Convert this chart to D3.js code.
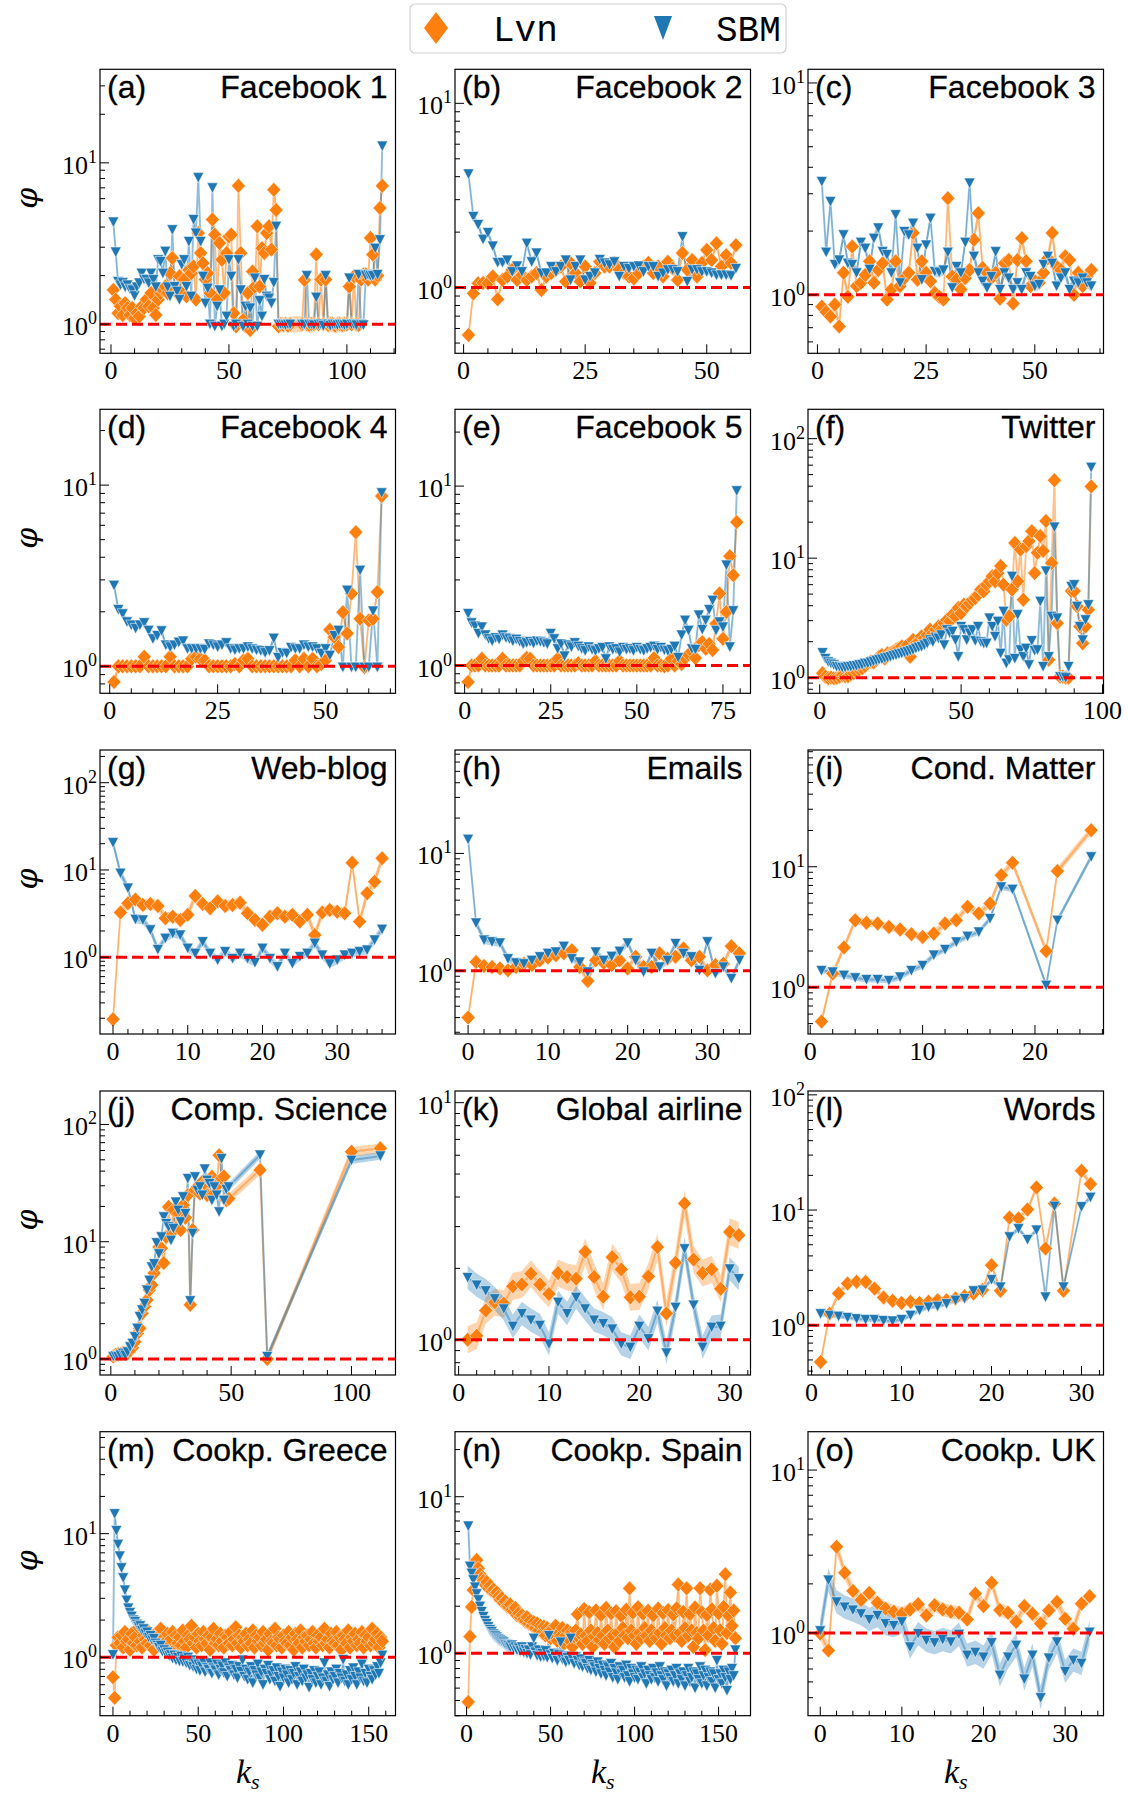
<!DOCTYPE html>
<html>
<head>
<meta charset="utf-8">
<script src="https://cdn.jsdelivr.net/npm/d3@7"></script>
<style>
  body { margin: 0; background: #fff; }
  svg { display: block; }
</style>
</head>
<body>
<svg id="fig" width="1128" height="1798"></svg>
<script>
// ---------------------------------------------------------------------------
// Amplification ratio phi per shell index k_s, Lvn model vs SBM, 15 networks
// ---------------------------------------------------------------------------
const seriesNames = ["Lvn", "SBM"];
const panelLetters = ["(a)", "(b)", "(c)", "(d)", "(e)", "(f)", "(g)", "(h)", "(i)", "(j)", "(k)", "(l)", "(m)", "(n)", "(o)"];
const panelTitles = ["Facebook 1", "Facebook 2", "Facebook 3", "Facebook 4", "Facebook 5", "Twitter",
  "Web-blog", "Emails", "Cond. Matter", "Comp. Science", "Global airline", "Words",
  "Cookp. Greece", "Cookp. Spain", "Cookp. UK"];

// (a) Facebook 1  (shells 77-80 empty)
const ksFb1 = d3.range(1, 77).concat(d3.range(81, 116));
const lvnFb1 = [1.63, 1.42, 1.17, 1.29, 1.14, 1.35, 1.26, 1.14, 1.26, 1.09,
  1.17, 1.12, 1.29, 1.26, 1.42, 1.29, 1.56, 1.26, 1.14, 1.42,
  1.56, 1.63, 1.71, 1.56, 2.07, 2.57, 1.63, 1.56, 1.98, 1.56,
  1.89, 1.49, 2.17, 2.07, 2.28, 1.42, 3.67, 2.76, 2.39, 1.89,
  2.07, 1.56, 4.45, 3.59, 1.42, 3.18, 2.51, 1.56, 2.76, 3.5,
  3.59, 1.17, 0.97, 7.2, 2.76, 1.06, 0.97, 1.56, 0.92, 2.12,
  1.71, 4.04, 1.71, 2.96, 2.76, 3.67, 4.04, 2.9, 6.8, 5.1,
  0.97, 1.0, 0.99, 1.0, 0.98, 1.0,
  1.0, 1.88, 1.0, 0.99, 1.0, 1.0, 2.7, 1.0, 1.89, 1.0,
  1.89, 0.99, 1.0, 1.0, 0.98, 1.0, 1.0, 0.99, 1.0, 1.0,
  1.71, 1.0, 1.98, 1.0, 0.99, 1.89, 2.03, 2.03, 1.89, 3.42,
  2.7, 1.89, 2.0, 5.25, 7.2];
const sbmFb1 = [4.3, 2.8, 1.84, 1.75, 1.81, 1.7, 1.75, 1.65, 1.63, 1.5,
  1.7, 1.8, 2.07, 1.9, 1.89, 1.8, 2.07, 1.89, 1.7, 2.51,
  2.45, 2.07, 2.83, 1.7, 1.49, 3.85, 1.71, 1.6, 1.42, 2.34,
  2.51, 1.71, 3.26, 1.49, 4.45, 3.67, 8.1, 3.26, 1.98, 1.35,
  1.67, 1.0, 7.0, 0.97, 1.29, 1.63, 0.97, 1.0, 1.12, 2.51,
  1.98, 0.97, 1.0, 2.51, 1.63, 0.97, 1.29, 1.0, 1.26, 0.97,
  1.93, 0.97, 1.4, 1.12, 1.89, 1.49, 1.45, 1.35, 1.81, 4.05,
  1.0, 1.0, 1.0, 0.99, 1.0, 1.0,
  1.0, 1.0, 2.0, 1.0, 1.0, 0.99, 1.47, 1.0, 1.0, 0.98,
  2.0, 1.0, 0.98, 1.0, 1.0, 0.99, 1.0, 1.0, 0.99, 1.0,
  1.93, 1.0, 1.0, 0.99, 2.03, 1.0, 0.99, 2.0, 2.03, 2.0,
  2.0, 2.96, 2.03, 3.34, 12.7];

// (b) Facebook 2
const ksFb2 = d3.range(1, 57);
const lvnFb2 = [0.553, 0.93, 1.055, 1.06, 1.055, 1.15, 0.864, 1.1, 1.15, 1.25,
  1.1, 1.17, 1.1, 1.15, 1.2, 0.97, 1.15, 1.2, 1.25, 1.3,
  1.08, 1.36, 1.2, 1.08, 1.3, 1.06, 1.2, 1.38, 1.3, 1.3,
  1.36, 1.25, 1.2, 1.15, 1.12, 1.2, 1.3, 1.36, 1.2, 1.3,
  1.15, 1.38, 1.27, 1.1, 1.54, 1.25, 1.41, 1.15, 1.36, 1.6,
  1.41, 1.74, 1.3, 1.5, 1.36, 1.7];
const sbmFb2 = [4.14, 2.43, 2.2, 1.83, 1.99, 1.68, 1.37, 1.37, 1.41, 1.22,
  1.31, 1.22, 1.74, 1.38, 1.54, 1.2, 1.2, 1.3, 1.22, 1.3,
  1.41, 1.1, 1.3, 1.41, 1.1, 1.15, 1.2, 1.42, 1.36, 1.33,
  1.38, 1.15, 1.3, 1.27, 1.3, 1.31, 1.22, 1.3, 1.3, 1.15,
  1.2, 1.25, 1.25, 1.22, 1.89, 1.08, 1.25, 1.25, 1.22, 1.22,
  1.2, 1.17, 1.17, 1.17, 1.16, 1.27];

// (c) Facebook 3
const ksFb3 = d3.range(1, 64);
const lvnFb3 = [0.88, 0.83, 0.79, 0.9, 0.71, 1.27, 0.98, 1.69, 1.1, 1.14,
  1.24, 1.44, 1.14, 1.31, 1.41, 0.95, 1.06, 1.44, 1.1, 1.2,
  1.27, 1.96, 1.18, 1.44, 1.27, 1.16, 1.02, 0.98, 0.95, 2.86,
  1.22, 1.18, 1.06, 1.2, 1.31, 1.82, 2.43, 1.34, 1.27, 1.2,
  1.27, 0.96, 1.41, 1.46, 0.91, 1.46, 1.85, 1.44, 1.1, 1.16,
  1.14, 1.27, 1.49, 1.96, 1.36, 1.31, 1.52, 1.46, 1.0, 1.27,
  1.1, 1.22, 1.31];
const sbmFb3 = [3.43, 1.59, 2.76, 1.39, 1.46, 1.92, 1.41, 1.39, 1.27, 1.77,
  1.66, 1.32, 1.85, 2.07, 1.6, 1.55, 1.27, 2.39, 1.14, 1.99,
  1.92, 2.18, 1.66, 1.18, 1.72, 2.3, 1.29, 1.28, 1.31, 1.59,
  1.08, 1.36, 1.27, 1.77, 3.37, 1.52, 1.27, 1.16, 1.08, 1.22,
  1.6, 1.06, 1.27, 1.2, 1.06, 1.14, 1.06, 1.27, 1.22, 1.1,
  1.12, 1.39, 1.52, 1.41, 1.1, 1.2, 1.27, 1.06, 1.16, 1.14,
  1.2, 1.14, 1.1];

// (d) Facebook 4
const ksFb4 = d3.range(1, 64);
const lvnFb4 = [0.82, 1.0, 1.0, 1.0, 1.0, 1.0, 1.0, 1.13, 1.0, 1.0,
  1.0, 1.0, 1.0, 1.13, 1.0, 1.0, 1.0, 1.0, 1.1, 1.13,
  1.1, 1.08, 1.0, 1.0, 1.0, 1.0, 1.0, 1.0, 1.03, 1.0,
  1.08, 1.1, 1.0, 1.0, 1.0, 1.0, 1.0, 1.0, 1.0, 1.0,
  1.0, 1.0, 1.08, 1.0, 1.1, 1.0, 1.1, 1.0, 1.03, 1.08,
  1.59, 1.45, 1.28, 1.99, 1.52, 2.52, 5.5, 1.83, 0.99, 1.79,
  1.83, 2.57, 8.7];
const sbmFb4 = [2.8, 2.06, 1.95, 1.76, 1.69, 1.62, 1.69, 1.74, 1.58, 1.42,
  1.48, 1.57, 1.31, 1.28, 1.31, 1.36, 1.38, 1.25, 1.25, 1.25,
  1.25, 1.24, 1.33, 1.31, 1.28, 1.31, 1.35, 1.25, 1.23, 1.25,
  1.25, 1.28, 1.25, 1.23, 1.22, 1.19, 1.22, 1.43, 1.12, 1.19,
  1.18, 1.27, 1.25, 1.25, 1.31, 1.28, 1.28, 1.25, 1.18, 1.25,
  1.15, 1.48, 1.58, 0.99, 2.63, 0.99, 0.99, 3.39, 0.99, 0.99,
  2.02, 0.99, 9.07];

// (e) Facebook 5
const ksFb5 = d3.range(1, 80);
const lvnFb5 = [0.81, 1.0, 1.0, 1.0, 1.09, 1.0, 1.0, 1.0, 1.0, 1.0,
  1.09, 1.0, 1.0, 1.0, 1.0, 1.0, 1.06, 1.1, 1.09, 1.0,
  1.0, 1.0, 1.0, 1.0, 1.0, 1.0, 1.09, 1.0, 1.0, 1.0,
  1.0, 1.0, 1.03, 1.0, 1.0, 1.0, 1.0, 1.06, 1.0, 1.0,
  1.0, 1.0, 1.0, 1.0, 1.06, 1.0, 1.0, 1.0, 1.0, 1.0,
  1.0, 1.0, 1.0, 1.0, 1.1, 1.0, 1.0, 0.99, 1.0, 1.09,
  1.0, 1.06, 1.02, 1.1, 1.15, 1.2, 1.1, 1.3, 1.35, 1.24,
  1.32, 1.22, 1.71, 2.52, 1.41, 1.99, 4.07, 3.19, 6.3];
const sbmFb5 = [1.95, 1.73, 1.66, 1.51, 1.64, 1.48, 1.41, 1.37, 1.43, 1.4,
  1.48, 1.43, 1.41, 1.37, 1.4, 1.36, 1.32, 1.34, 1.36, 1.33,
  1.37, 1.36, 1.34, 1.32, 1.51, 1.41, 1.24, 1.32, 1.13, 1.3,
  1.27, 1.34, 1.28, 1.24, 1.21, 1.27, 1.23, 1.21, 1.24, 1.26,
  1.09, 1.27, 1.23, 1.24, 1.19, 1.26, 1.23, 1.24, 1.21, 1.26,
  1.23, 1.21, 1.24, 1.26, 1.28, 1.23, 1.26, 1.22, 1.21, 1.23,
  1.28, 1.11, 1.48, 1.79, 1.57, 1.24, 1.23, 1.91, 1.59, 1.79,
  2.05, 2.31, 1.57, 1.75, 1.64, 3.63, 1.27, 2.02, 9.42];

// (f) Twitter
const ksTw = d3.range(1, 97);
const lvnTw = [1.09, 1.02, 0.99, 1.0, 0.99, 1.0, 1.02, 1.05, 1.03, 1.03,
  1.07, 1.09, 1.12, 1.17, 1.2, 1.25, 1.32, 1.36, 1.34, 1.41,
  1.5, 1.55, 1.45, 1.6, 1.6, 1.65, 1.71, 1.76, 1.82, 1.76,
  1.88, 1.5, 2.07, 1.94, 2.0, 2.21, 2.14, 2.28, 2.52, 2.36,
  2.52, 2.68, 2.52, 2.86, 3.05, 2.96, 3.37, 3.26, 3.83, 3.47,
  4.08, 3.95, 4.21, 4.49, 4.64, 4.95, 5.46, 5.28, 6.0, 6.4,
  7.05, 6.4, 7.5, 8.6, 6.0, 3.05, 3.26, 5.46, 13.4, 6.4,
  11.8, 4.49, 12.6, 13.9, 16.8, 7.5, 11.1, 15.3, 11.5, 20.5,
  1.41, 9.1, 44.9, 2.86, 1.02, 1.02, 1.0, 1.0, 5.3, 5.3,
  3.95, 2.68, 1.94, 2.68, 3.7, 39.8];
const sbmTw = [1.62, 1.45, 1.36, 1.32, 1.28, 1.24, 1.24, 1.22, 1.22, 1.24,
  1.24, 1.26, 1.26, 1.28, 1.29, 1.32, 1.32, 1.35, 1.37, 1.4,
  1.42, 1.43, 1.46, 1.48, 1.5, 1.53, 1.55, 1.58, 1.6, 1.63,
  1.65, 1.69, 1.71, 1.76, 1.8, 1.82, 1.88, 1.94, 2.07, 2.0,
  2.18, 2.14, 2.28, 1.88, 2.52, 2.36, 2.44, 2.07, 1.5, 2.68,
  2.52, 2.07, 2.36, 2.52, 2.04, 2.68, 2.0, 1.94, 1.94, 3.15,
  2.68, 2.21, 2.96, 1.6, 3.59, 1.32, 1.41, 7.05, 1.45, 3.37,
  1.71, 1.5, 1.76, 1.28, 2.04, 1.69, 1.71, 4.35, 1.24, 7.8,
  1.5, 3.26, 18.2, 3.15, 1.02, 1.02, 1.0, 1.24, 5.8, 6.0,
  3.95, 2.68, 2.07, 3.05, 4.08, 57.6];

// (g) Web-blog
const ksWeb = d3.range(0, 37);
const lvnWeb = [0.195, 3.25, 4.15, 4.6, 3.97, 4.08, 3.87, 2.8, 2.92, 2.68,
  3.06, 5.04, 4.08, 3.64, 4.37, 3.87, 3.97, 4.22, 3.19, 2.68,
  2.35, 2.92, 3.19, 2.92, 3.06, 2.56, 3.06, 1.8, 3.25, 3.48,
  3.33, 3.19, 12.1, 2.56, 5.4, 7.35, 13.6];
const sbmWeb = [20.6, 9.2, 6.2, 2.72, 2.68, 2.06, 1.23, 1.65, 1.88, 1.8,
  1.27, 1.11, 1.51, 1.11, 0.93, 1.16, 0.97, 1.11, 0.97, 0.87,
  1.27, 0.97, 0.78, 1.11, 0.85, 1.02, 1.11, 1.45, 1.06, 0.84,
  0.93, 1.06, 1.11, 1.16, 1.21, 1.58, 2.09];

// (h) Emails
const ksMail = d3.range(0, 35);
const lvnMail = [0.4, 1.19, 1.1, 1.08, 1.05, 1.01, 1.08, 1.15, 1.12, 1.23,
  1.3, 1.36, 1.41, 1.5, 1.08, 0.82, 1.23, 1.17, 1.12, 1.23,
  1.05, 1.32, 1.08, 1.08, 1.41, 1.27, 1.32, 1.55, 1.23, 1.32,
  1.01, 1.12, 1.15, 1.62, 1.41];
const sbmMail = [13.2, 2.56, 1.83, 1.77, 1.73, 1.27, 1.17, 1.15, 1.23, 1.32,
  1.41, 1.45, 1.62, 1.27, 1.19, 0.98, 1.45, 1.23, 1.33, 1.47,
  1.73, 1.23, 0.98, 1.41, 1.08, 1.23, 1.71, 1.41, 1.32, 1.01,
  1.77, 0.95, 1.08, 0.86, 1.23];

// (i) Cond. Matter  (shells 19, 20, 23, 24 empty)
const ksCond = d3.range(1, 19).concat([21, 22, 25]);
const lvnCond = [0.52, 1.3, 2.14, 3.6, 3.43, 3.38, 3.17, 3.02, 2.76, 2.62,
  2.79, 3.38, 3.6, 4.65, 4.1, 4.96, 8.5, 10.8, 2.0, 9.2, 20.1];
const sbmCond = [1.38, 1.34, 1.26, 1.2, 1.16, 1.16, 1.14, 1.22, 1.38, 1.52,
  1.85, 2.06, 2.38, 2.65, 2.88, 3.72, 6.8, 6.5, 1.04, 3.6, 12.1];

// (j) Comp. Science  (sparse high shells)
const ksComp = d3.range(1, 50).concat([62, 65, 100, 112]);
const lvnComp = [1.05, 1.08, 1.1, 1.1, 1.12, 1.1, 1.12, 1.18, 1.25, 1.4,
  1.65, 1.83, 2.45, 2.8, 3.18, 3.87, 4.27, 5.4, 6.3, 9.0,
  8.8, 6.6, 11.0, 19.8, 11.8, 18.6, 13.0, 17.4, 12.6, 20.5,
  16.0, 25.0, 2.9, 12.6, 27.5, 29.4, 25.8, 32.5, 31.4, 25.0,
  33.5, 35.8, 25.8, 30.0, 54.6, 34.7, 36.0, 22.6, 23.3,
  40.9, 1.0, 58.5, 62.6];
const sbmComp = [1.05, 1.06, 1.05, 1.08, 1.12, 1.08, 1.15, 1.27, 1.36, 1.55,
  1.83, 2.3, 2.62, 2.98, 3.87, 4.7, 6.1, 6.5, 9.8, 7.9,
  11.0, 16.3, 14.3, 13.4, 10.3, 13.0, 21.8, 18.6, 14.8, 24.2,
  17.4, 34.7, 3.14, 11.8, 35.8, 27.5, 29.4, 25.0, 41.7, 33.5,
  31.4, 22.6, 29.4, 25.0, 18.0, 51.2, 22.6, 28.0, 29.4,
  55.0, 1.05, 49.6, 53.9];

// (k) Global airline
const ksAir = d3.range(1, 32);
const lvnAir = [1.0, 1.04, 1.33, 1.44, 1.42, 1.68, 1.71, 1.9, 1.71, 1.56,
  1.91, 1.84, 1.81, 2.35, 1.84, 1.52, 2.23, 1.98, 1.51, 1.52,
  1.85, 2.46, 1.29, 2.11, 3.76, 2.18, 1.91, 1.98, 1.64, 2.85, 2.76];
const sbmAir = [1.83, 1.7, 1.61, 1.49, 1.35, 1.14, 1.29, 1.21, 1.15, 0.96,
  1.44, 1.29, 1.51, 1.35, 1.21, 1.17, 1.11, 0.96, 0.93, 1.14,
  1.01, 1.32, 0.88, 1.37, 2.42, 1.4, 0.93, 1.13, 1.14, 1.99, 1.81];

// (l) Words  (shell 29 empty)
const ksWords = d3.range(1, 29).concat([30, 31]);
const lvnWords = [0.48, 1.26, 1.89, 2.3, 2.38, 2.38, 2.08, 1.74, 1.63, 1.56,
  1.6, 1.56, 1.6, 1.65, 1.65, 1.71, 1.79, 1.89, 2.02, 3.32,
  1.99, 8.6, 8.45, 10.1, 15.7, 4.64, 11.4, 1.99, 21.9, 16.8];
const sbmWords = [1.26, 1.22, 1.2, 1.17, 1.14, 1.12, 1.12, 1.1, 1.09, 1.12,
  1.22, 1.35, 1.44, 1.46, 1.54, 1.65, 1.71, 1.99, 2.02, 2.49,
  2.15, 5.86, 6.9, 5.55, 6.7, 1.76, 10.8, 2.15, 10.7, 12.9];

// (m) Cookpad Greece
const ksGreece = d3.range(0, 159);
const lvnGreece = [0.69, 0.47, 1.25, 1.45, 1.3, 1.5, 1.2, 1.6, 1.35, 1.4,
  1.15, 1.55, 1.3, 1.45, 1.25, 1.75, 1.35, 1.2, 1.5, 1.4,
  1.3, 1.6, 1.25, 1.45, 1.15, 1.55, 1.35, 1.3, 1.7, 1.2,
  1.45, 1.35, 1.55, 1.25, 1.4, 1.6, 1.15, 1.5, 1.3, 1.45,
  1.25, 1.65, 1.35, 1.2, 1.5, 1.4, 1.8, 1.3, 1.45, 1.2,
  1.55, 1.35, 1.25, 1.6, 1.4, 1.3, 1.5, 1.15, 1.45, 1.7,
  1.3, 1.4, 1.25, 1.55, 1.35, 1.2, 1.5, 1.45, 1.3, 1.6,
  1.25, 1.4, 1.75, 1.3, 1.5, 1.2, 1.45, 1.35, 1.55, 1.25,
  1.4, 1.3, 1.65, 1.2, 1.5, 1.35, 1.45, 1.25, 1.6, 1.3,
  1.4, 1.15, 1.55, 1.35, 1.3, 1.7, 1.25, 1.45, 1.4, 1.2,
  1.5, 1.35, 1.3, 1.6, 1.25, 1.45, 1.15, 1.55, 1.4, 1.3,
  1.65, 1.2, 1.45, 1.35, 1.5, 1.25, 1.4, 1.6, 1.3, 1.2,
  1.5, 1.35, 1.45, 1.25, 1.7, 1.3, 1.4, 1.2, 1.55, 1.35,
  1.3, 1.6, 1.25, 1.45, 1.15, 1.5, 1.4, 1.3, 1.65, 1.2,
  1.45, 1.35, 1.55, 1.25, 1.4, 1.3, 1.6, 1.2, 1.5, 1.35,
  1.45, 1.25, 1.7, 1.3, 1.4, 1.55, 1.2, 1.45, 1.35];
const sbmGreece = [1.05, 14.5, 10.6, 8.2, 6.6, 5.3, 4.4, 3.5, 2.9, 2.5,
  2.3, 2.15, 2.0, 1.95, 1.85, 1.78, 1.8, 1.65, 1.7, 1.55,
  1.6, 1.45, 1.5, 1.38, 1.42, 1.3, 1.25, 1.2, 1.25, 1.12,
  1.15, 1.08, 1.1, 1.03, 1.05, 0.98, 1.04, 0.95, 1.0, 0.93,
  1.02, 0.92, 0.97, 0.9, 1.0, 0.86, 0.95, 0.84, 0.9, 0.8,
  0.88, 0.78, 0.85, 0.92, 0.76, 0.83, 0.8, 0.9, 0.74, 0.82,
  0.79, 0.88, 0.72, 0.8, 0.85, 0.75, 0.9, 0.7, 0.82, 0.78,
  0.86, 0.72, 0.8, 0.68, 0.84, 0.77, 0.95, 0.7, 0.8, 0.66,
  0.76, 0.84, 0.62, 0.78, 0.72, 0.88, 0.68, 0.76, 0.6, 0.8,
  0.74, 0.86, 0.66, 0.72, 0.78, 0.64, 0.82, 0.7, 0.58, 0.76,
  0.68, 0.8, 0.72, 0.62, 0.78, 0.66, 0.74, 0.84, 0.6, 0.7,
  0.76, 0.64, 0.8, 0.68, 0.72, 0.57, 0.74, 0.66, 0.78, 0.62,
  0.7, 0.76, 0.6, 0.68, 0.9, 0.64, 0.72, 0.58, 0.76, 0.66,
  0.7, 0.8, 0.62, 0.74, 0.68, 0.96, 0.64, 0.72, 0.6, 0.78,
  0.66, 0.82, 0.7, 0.6, 0.76, 0.68, 0.88, 0.64, 0.74, 0.62,
  0.8, 0.7, 0.66, 0.78, 0.72, 0.84, 0.74, 0.9, 1.04];

// (n) Cookpad Spain
const ksSpain = d3.range(1, 161);
const lvnSpain = [0.49, 1.28, 1.98, 2.54, 3.84, 3.94, 3.49, 3.2, 3.0, 2.9,
  2.75, 2.85, 2.6, 2.7, 2.5, 2.55, 2.4, 2.45, 2.3, 2.2,
  2.25, 2.1, 2.15, 2.0, 1.98, 2.05, 1.9, 1.85, 1.95, 1.75,
  1.8, 1.7, 1.75, 1.65, 1.6, 1.7, 1.55, 1.62, 1.5, 1.58,
  1.45, 1.55, 1.4, 1.5, 1.35, 1.48, 1.3, 1.45, 1.38, 1.25,
  1.42, 1.3, 1.5, 1.2, 1.35, 1.28, 1.45, 1.15, 1.3, 1.4,
  1.22, 1.35, 1.1, 1.28, 1.4, 1.78, 1.25, 1.32, 1.15, 1.92,
  1.3, 1.2, 1.83, 1.4, 1.1, 1.28, 1.88, 1.35, 1.22, 1.76,
  1.3, 1.15, 1.95, 1.4, 1.25, 1.8, 1.3, 1.1, 1.86, 1.35,
  1.2, 1.74, 1.45, 1.3, 1.9, 1.25, 2.6, 1.4, 1.82, 1.3,
  1.15, 1.97, 1.35, 1.25, 1.79, 1.45, 1.3, 1.87, 1.2, 1.4,
  1.75, 1.3, 1.25, 1.93, 1.35, 1.15, 1.81, 1.45, 1.3, 1.89,
  1.25, 1.4, 1.77, 1.3, 1.94, 2.75, 1.35, 1.2, 1.84, 1.45,
  2.6, 1.3, 1.78, 1.4, 1.1, 1.96, 1.35, 1.25, 2.6, 1.83,
  1.4, 1.05, 1.76, 1.3, 2.55, 1.91, 1.45, 1.2, 2.7, 1.8,
  1.4, 1.15, 1.98, 3.2, 1.35, 1.74, 2.45, 1.5, 1.88, 1.25];
const sbmSpain = [6.5, 3.6, 3.25, 2.95, 2.65, 2.4, 2.2, 2.0, 1.85, 1.72,
  1.62, 1.55, 1.48, 1.42, 1.38, 1.33, 1.3, 1.27, 1.24, 1.22,
  1.2, 1.18, 1.15, 1.14, 1.12, 1.1, 1.13, 1.08, 1.1, 1.05,
  1.08, 1.04, 1.1, 1.02, 1.06, 1.0, 1.05, 0.98, 1.1, 1.25,
  1.02, 0.97, 1.05, 0.95, 1.0, 0.96, 1.04, 0.94, 1.3, 0.98,
  0.93, 1.0, 0.95, 0.9, 0.98, 1.18, 0.92, 0.96, 0.88, 0.94,
  0.9, 1.25, 0.92, 0.86, 0.95, 0.9, 0.84, 0.92, 0.82, 0.88,
  0.86, 0.8, 0.9, 0.78, 0.85, 0.82, 0.76, 0.88, 0.8, 0.74,
  0.84, 0.78, 0.72, 0.82, 0.76, 0.86, 0.7, 0.8, 0.75, 0.68,
  0.82, 0.74, 0.78, 0.7, 0.84, 0.72, 0.66, 0.8, 0.74, 0.7,
  0.78, 0.68, 0.76, 0.82, 0.7, 0.74, 0.64, 0.78, 0.72, 0.68,
  0.8, 0.7, 0.75, 0.66, 0.82, 0.72, 0.68, 0.76, 0.62, 0.74,
  0.7, 0.78, 0.66, 0.72, 0.8, 0.64, 0.74, 0.68, 0.76, 0.62,
  0.72, 0.8, 0.66, 0.7, 0.76, 0.6, 0.74, 0.68, 0.82, 0.64,
  0.72, 0.78, 0.62, 0.7, 0.76, 0.66, 0.74, 0.6, 0.9, 0.68,
  0.74, 0.64, 0.78, 0.7, 0.58, 0.76, 0.68, 0.8, 0.72, 1.05];

// (o) Cookpad UK
const ksUK = d3.range(0, 34);
const lvnUK = [0.99, 0.78, 3.38, 2.34, 1.81, 1.59, 1.76, 1.53, 1.41, 1.35,
  1.31, 1.39, 1.5, 1.28, 1.48, 1.39, 1.35, 1.33, 1.21, 1.74,
  1.46, 2.03, 1.38, 1.33, 1.17, 1.46, 1.31, 1.14, 1.37, 1.55,
  1.22, 1.06, 1.51, 1.68];
const sbmUK = [1.03, 2.11, 1.55, 1.44, 1.38, 1.31, 1.21, 1.28, 1.14, 1.11,
  1.17, 0.82, 0.99, 0.9, 0.87, 0.91, 0.88, 0.98, 0.73, 0.76,
  0.71, 0.87, 0.55, 0.71, 0.84, 0.52, 0.73, 0.4, 0.7, 0.88,
  0.58, 0.68, 0.65, 1.01];

// Axis settings per panel: x range, log y range, major x ticks, minor x step, band half-widths
const xDomains = [[-4.66, 120.6], [-1.77, 59.0], [-2.17, 65.8], [-2.25, 66.2], [-2.8, 83.0], [-4.15, 100.36],
  [-1.74, 37.8], [-1.64, 35.4], [-0.2, 26.1], [-4.5, 118.3], [-0.4, 32.3], [-0.4, 32.45],
  [-7.6, 165.7], [-6.9, 169.0], [-1.5, 34.7]];
const yDomains = [[0.66, 38], [0.44, 15.3], [0.53, 11.6], [0.71, 26.2], [0.70, 26.8], [0.74, 176],
  [0.132, 237], [0.29, 76], [0.41, 93], [0.73, 193], [0.71, 11.2], [0.37, 108],
  [0.337, 66.8], [0.40, 26], [0.31, 17.2]];
const xMajorTicks = [[0, 50, 100], [0, 25, 50], [0, 25, 50], [0, 25, 50], [0, 25, 50, 75], [0, 50, 100],
  [0, 10, 20, 30], [0, 10, 20, 30], [0, 10, 20], [0, 50, 100], [0, 10, 20, 30], [0, 10, 20, 30],
  [0, 50, 100, 150], [0, 50, 100, 150], [0, 10, 20, 30]];
const xMinorSteps = [10, 5, 5, 5, 5, 10, 2, 2, 2, 10, 2, 2, 10, 10, 2];
const bandWidths = [[0.12, 0.05], [0.05, 0.04], [0.08, 0.06], [0.06, 0.04], [0.06, 0.04], [0.06, 0.05],
  [0.16, 0.12], [0.08, 0.08], [0.08, 0.06], [0.1, 0.08], [0.14, 0.12], [0.07, 0.05],
  [0.1, 0.1], [0.1, 0.1], [0.1, 0.18]];

const ksAll = [ksFb1, ksFb2, ksFb3, ksFb4, ksFb5, ksTw, ksWeb, ksMail, ksCond, ksComp, ksAir, ksWords, ksGreece, ksSpain, ksUK];
const lvnAll = [lvnFb1, lvnFb2, lvnFb3, lvnFb4, lvnFb5, lvnTw, lvnWeb, lvnMail, lvnCond, lvnComp, lvnAir, lvnWords, lvnGreece, lvnSpain, lvnUK];
const sbmAll = [sbmFb1, sbmFb2, sbmFb3, sbmFb4, sbmFb5, sbmTw, sbmWeb, sbmMail, sbmCond, sbmComp, sbmAir, sbmWords, sbmGreece, sbmSpain, sbmUK];

// ---------------------------------------------------------------------------
// Layout and drawing
// ---------------------------------------------------------------------------
const W = 295.5, H = 284;
const colX = [100, 455, 808];
const rowY = [69.3, 409.3, 750, 1091, 1431.7];
const ORANGE = "#ff7f0e", BLUE = "#1f77b4";
const SERIF = "'Liberation Serif', 'DejaVu Serif', serif";
const SANS = "'Liberation Sans', Arial, sans-serif";
const MONO = "'Liberation Mono', 'DejaVu Sans Mono', monospace";

const svg = d3.select("#fig");
svg.append("rect").attr("width", 1128).attr("height", 1798).attr("fill", "#fff");

const diamondPath = "M0,-7.5L7,0L0,7.5L-7,0Z";
const triPath = "M-5.5,-5L5.5,-5L0,5.5Z";

panelTitles.forEach((title, i) => {
  const col = i % 3, row = Math.floor(i / 3);
  const g = svg.append("g").attr("transform", `translate(${colX[col]},${rowY[row]})`);
  const x = d3.scaleLinear().domain(xDomains[i]).range([0, W]);
  const y = d3.scaleLog().domain(yDomains[i]).range([H, 0]);

  const clipId = "clip-" + i;
  g.append("clipPath").attr("id", clipId).append("rect").attr("width", W).attr("height", H);
  const plot = g.append("g").attr("clip-path", `url(#${clipId})`);

  const ks = ksAll[i];
  const series = [
    { vals: lvnAll[i], color: ORANGE, band: bandWidths[i][0], path: diamondPath },
    { vals: sbmAll[i], color: BLUE, band: bandWidths[i][1], path: triPath }
  ];
  series.forEach(s => {
    const n = Math.min(ks.length, s.vals.length);
    s.pts = d3.range(n).map(j => ({ k: ks[j], v: s.vals[j] }));
  });

  // shaded uncertainty bands
  series.forEach(s => {
    plot.append("path").datum(s.pts)
      .attr("d", d3.area()
        .x(d => x(d.k))
        .y0(d => y(d.v / (1 + s.band)))
        .y1(d => y(d.v * (1 + s.band))))
      .attr("fill", s.color).attr("fill-opacity", 0.33);
  });
  // connecting lines
  series.forEach(s => {
    plot.append("path").datum(s.pts)
      .attr("d", d3.line().x(d => x(d.k)).y(d => y(d.v)))
      .attr("fill", "none").attr("stroke", s.color)
      .attr("stroke-opacity", 0.45).attr("stroke-width", 2);
  });
  // markers
  series.forEach(s => {
    plot.append("g").selectAll("path").data(s.pts).join("path")
      .attr("d", s.path)
      .attr("transform", d => `translate(${x(d.k)},${y(d.v)})`)
      .attr("fill", s.color)
      .attr("stroke", "rgba(255,255,255,0.55)").attr("stroke-width", 1);
  });

  // reference line phi = 1
  plot.append("line")
    .attr("x1", 0).attr("x2", W).attr("y1", y(1)).attr("y2", y(1))
    .attr("stroke", "#ff0000").attr("stroke-width", 3).attr("stroke-dasharray", "11,5");

  // frame
  g.append("rect").attr("width", W).attr("height", H)
    .attr("fill", "none").attr("stroke", "#000").attr("stroke-width", 1.2);

  // y ticks (log)
  const [ylo, yhi] = yDomains[i];
  const e0 = Math.floor(Math.log10(ylo)), e1 = Math.ceil(Math.log10(yhi));
  for (let e = e0; e <= e1; e++) {
    for (let m = 1; m <= 9; m++) {
      const v = m * Math.pow(10, e);
      if (v < ylo || v > yhi) continue;
      const yy = y(v);
      g.append("line").attr("x1", 0).attr("x2", m === 1 ? 9 : 5)
        .attr("y1", yy).attr("y2", yy).attr("stroke", "#000").attr("stroke-width", 1);
      if (m === 1) {
        const t = g.append("text").attr("x", -3).attr("y", yy + 11)
          .attr("text-anchor", "end")
          .style("font-family", SERIF).style("font-size", "26px").attr("fill", "#000");
        t.append("tspan").text("10");
        t.append("tspan").attr("dy", -11).style("font-size", "18px").text(String(e));
      }
    }
  }

  // x ticks
  const [xlo, xhi] = xDomains[i];
  const step = xMinorSteps[i];
  d3.range(Math.ceil(xlo / step) * step, xhi, step).forEach(v => {
    const major = xMajorTicks[i].includes(v);
    g.append("line").attr("x1", x(v)).attr("x2", x(v))
      .attr("y1", H).attr("y2", H - (major ? 9 : 5))
      .attr("stroke", "#000").attr("stroke-width", 1);
  });
  xMajorTicks[i].forEach(v => {
    g.append("text").attr("x", x(v)).attr("y", H + 26)
      .attr("text-anchor", "middle")
      .style("font-family", SERIF).style("font-size", "26px").text(v);
  });

  // panel labels
  g.append("text").attr("x", 7).attr("y", 29)
    .style("font-family", SANS).style("font-size", "32px")
    .attr("stroke", "#000").attr("stroke-width", 0.3).text(panelLetters[i]);
  g.append("text").attr("x", W - 8).attr("y", 29).attr("text-anchor", "end")
    .style("font-family", SANS).style("font-size", "32px")
    .attr("stroke", "#000").attr("stroke-width", 0.3).text(title);

  // y-axis label on the first column
  if (col === 0) {
    svg.append("text")
      .attr("transform", `translate(26,${rowY[row] + H / 2 - 13}) rotate(-90)`)
      .attr("text-anchor", "middle").attr("dominant-baseline", "central")
      .style("font-family", "'DejaVu Serif', serif").style("font-style", "italic")
      .style("font-size", "30px").text("\u03C6");
  }
  // x-axis label on the last row
  if (row === 4) {
    const t = svg.append("text").attr("x", colX[col] + W / 2).attr("y", 1783)
      .attr("text-anchor", "middle")
      .style("font-family", SERIF).style("font-style", "italic").style("font-size", "34px");
    t.append("tspan").text("k");
    t.append("tspan").attr("dy", 6).style("font-size", "22px").text("s");
  }
});

// legend
const leg = svg.append("g");
leg.append("rect").attr("x", 410).attr("y", 4).attr("width", 376).attr("height", 49).attr("rx", 5)
  .attr("fill", "#fff").attr("stroke", "#cfcfcf").attr("stroke-width", 1.2);
leg.append("path").attr("d", "M0,-16L12,0L0,16L-12,0Z").attr("transform", "translate(436,28)").attr("fill", ORANGE);
leg.append("text").attr("x", 493).attr("y", 41)
  .style("font-family", MONO).style("font-size", "36px").text(seriesNames[0]);
leg.append("path").attr("d", "M-9,-12L9,-12L0,12Z").attr("transform", "translate(663,28)").attr("fill", BLUE);
leg.append("text").attr("x", 716).attr("y", 41)
  .style("font-family", MONO).style("font-size", "36px").text(seriesNames[1]);
</script>
</body>
</html>
